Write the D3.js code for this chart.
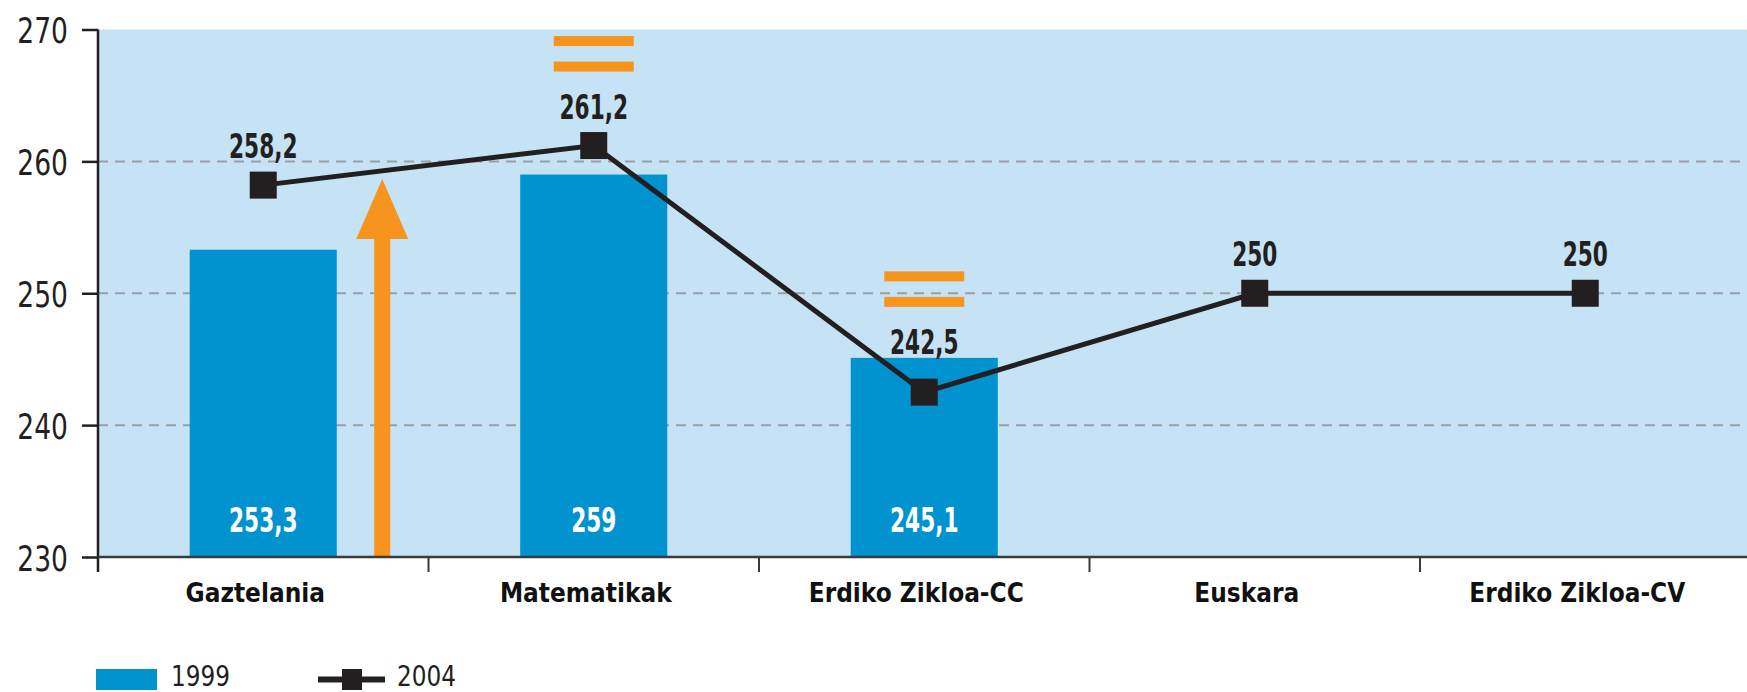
<!DOCTYPE html>
<html>
<head>
<meta charset="utf-8">
<script src="https://cdn.jsdelivr.net/npm/d3@7"></script>
<style>
  body { margin: 0; background: #fff; }
  svg { display: block; }
</style>
</head>
<body>
<svg id="svg"></svg>
<script>
const width = 1747, height = 692;

// data
const categories = ["Gaztelania", "Matematikak", "Erdiko Zikloa-CC", "Euskara", "Erdiko Zikloa-CV"];
const values1999 = [253.3, 259, 245.1, null, null];
const values2004 = [258.2, 261.2, 242.5, 250, 250];
const changes = ["up", "equal", "equal", null, null];
const yTicks = [230, 240, 250, 260, 270];
const seriesNames = ["1999", "2004"];

const fmt = v => String(v).replace(".", ",");

const plotLeft = 98, plotTop = 29.5, plotBottom = 557;

const svg = d3.select("#svg")
    .attr("width", width)
    .attr("height", height);

const x = d3.scaleBand()
    .domain(categories)
    .range([plotLeft, 1750.5]);

const y = d3.scaleLinear()
    .domain([230, 270])
    .range([plotBottom, plotTop]);

const bw = x.bandwidth();
const barW = bw * 0.445;
const cx = c => x(c) + bw / 2;

const blue = "#0093d0", orange = "#f7941d", dark = "#231f20";
const numFont = "'DejaVu Sans Condensed', sans-serif";

// narrow the condensed font a bit more, like the original
function squeeze(sel, s) {
    sel.each(function() {
        const t = d3.select(this);
        const tx = +t.attr("x") || 0, ty = +t.attr("y") || 0;
        t.attr("x", 0).attr("y", 0).attr("dy", null)
            .attr("transform", `translate(${tx},${ty}) scale(${s},1)`);
    });
}

// plot background
svg.append("rect")
    .attr("x", plotLeft)
    .attr("y", plotTop)
    .attr("width", width - plotLeft)
    .attr("height", plotBottom - plotTop)
    .attr("fill", "#c5e3f4");

// dashed grid
svg.append("g")
    .selectAll("line")
    .data(yTicks.filter(t => t > 230 && t < 270))
    .join("line")
    .attr("x1", plotLeft)
    .attr("x2", width)
    .attr("y1", d => y(d))
    .attr("y2", d => y(d))
    .attr("stroke", "#9b9fa3")
    .attr("stroke-width", 2)
    .attr("stroke-dasharray", "10,7");

// 1999 bars
const bars = categories.map((c, i) => ({ c, v: values1999[i] })).filter(d => d.v != null);

svg.append("g")
    .selectAll("rect")
    .data(bars)
    .join("rect")
    .attr("x", d => cx(d.c) - barW / 2)
    .attr("y", d => y(d.v))
    .attr("width", barW)
    .attr("height", d => y(230) - y(d.v))
    .attr("fill", blue);

svg.append("g")
    .selectAll("text")
    .data(bars)
    .join("text")
    .attr("x", d => cx(d.c))
    .attr("y", y(230) - 25)
    .attr("text-anchor", "middle")
    .attr("fill", "#fff")
    .style("font-family", numFont)
    .style("font-weight", "bold")
    .style("font-size", "33px")
    .text(d => fmt(d.v))
    .call(squeeze, 0.73);

// orange arrow (increase)
const up = categories.filter((c, i) => changes[i] === "up").map(c => ({ c, v: values2004[categories.indexOf(c)] }));
const arrow = svg.append("g").selectAll("g").data(up).join("g");
arrow.append("rect")
    .attr("x", d => x(d.c) + bw * 0.86 - 8)
    .attr("y", d => y(d.v) + 52)
    .attr("width", 16)
    .attr("height", d => y(230) - y(d.v) - 52);
arrow.append("path")
    .attr("d", d => {
        const ax = x(d.c) + bw * 0.86, top = y(d.v) - 6;
        return `M${ax},${top} L${ax + 26},${top + 60} L${ax - 26},${top + 60} Z`;
    });
arrow.selectAll("*").attr("fill", orange);

// 2004 line
const pts = categories.map((c, i) => ({ c, v: values2004[i], i }));
const line = d3.line().x(d => cx(d.c)).y(d => y(d.v));

svg.append("path")
    .datum(pts)
    .attr("d", line)
    .attr("fill", "none")
    .attr("stroke", dark)
    .attr("stroke-width", 5);

svg.append("g")
    .selectAll("rect")
    .data(pts)
    .join("rect")
    .attr("x", d => cx(d.c) - 13.5)
    .attr("y", d => y(d.v) - 13.5)
    .attr("width", 27)
    .attr("height", 27)
    .attr("fill", dark);

// label baseline for the 2004 values
const labelY = d => {
    const b = values1999[d.i];
    let yy = y(d.v) - 27;
    if (b != null) yy = Math.min(yy, y(b) - 4);
    return yy;
};

svg.append("g")
    .selectAll("text")
    .data(pts)
    .join("text")
    .attr("x", d => cx(d.c))
    .attr("y", labelY)
    .attr("text-anchor", "middle")
    .attr("fill", dark)
    .style("font-family", numFont)
    .style("font-weight", "bold")
    .style("font-size", "33px")
    .text(d => fmt(d.v))
    .call(squeeze, 0.73);

// orange "=" signs (no change)
const eq = pts.filter(d => changes[d.i] === "equal");
const eqG = svg.append("g").selectAll("g").data(eq).join("g");
[82.5, 57].forEach(off => {
    eqG.append("rect")
        .attr("x", d => cx(d.c) - 40)
        .attr("y", d => labelY(d) - off)
        .attr("width", 80)
        .attr("height", 10)
        .attr("fill", orange);
});

// y axis
const yAxis = svg.append("g")
    .attr("transform", `translate(${plotLeft},0)`)
    .call(d3.axisLeft(y).tickValues(yTicks).tickSize(16).tickPadding(14));
yAxis.select(".domain").remove();
yAxis.selectAll("line").attr("stroke", dark).attr("stroke-width", 2.5);
yAxis.selectAll("text")
    .attr("fill", dark)
    .attr("y", 13)
    .style("font-family", numFont)
    .style("font-size", "36px")
    .call(squeeze, 0.82);
svg.append("line")
    .attr("x1", plotLeft).attr("x2", plotLeft)
    .attr("y1", plotTop).attr("y2", plotBottom + 15)
    .attr("stroke", dark).attr("stroke-width", 2.5);

// x axis
svg.append("line")
    .attr("x1", plotLeft).attr("x2", width)
    .attr("y1", plotBottom).attr("y2", plotBottom)
    .attr("stroke", "#3a3a3a").attr("stroke-width", 2.5);
svg.append("g")
    .selectAll("line")
    .data(categories.slice(1))
    .join("line")
    .attr("x1", d => x(d)).attr("x2", d => x(d))
    .attr("y1", plotBottom).attr("y2", plotBottom + 15)
    .attr("stroke", "#3a3a3a").attr("stroke-width", 2);
svg.append("g")
    .selectAll("text")
    .data(categories)
    .join("text")
    .attr("x", d => cx(d) - 8)
    .attr("y", 602)
    .attr("text-anchor", "middle")
    .attr("fill", "#111")
    .style("font-family", "'DejaVu Sans Condensed', sans-serif")
    .style("font-weight", "bold")
    .style("font-size", "27px")
    .text(d => d)
    .call(squeeze, 0.96);

// legend
const legend = svg.append("g");
legend.append("rect")
    .attr("x", 96).attr("y", 669).attr("width", 61).attr("height", 21)
    .attr("fill", blue);
legend.append("line")
    .attr("x1", 318).attr("x2", 385).attr("y1", 679.5).attr("y2", 679.5)
    .attr("stroke", dark).attr("stroke-width", 6);
legend.append("rect")
    .attr("x", 342).attr("y", 669).attr("width", 20).attr("height", 21)
    .attr("fill", dark);
legend.selectAll("text")
    .data(seriesNames)
    .join("text")
    .attr("x", (d, i) => i === 0 ? 171 : 397)
    .attr("y", 686)
    .attr("fill", dark)
    .style("font-family", numFont)
    .style("font-size", "28px")
    .text(d => d)
    .call(squeeze, 0.92);
</script>
</body>
</html>
